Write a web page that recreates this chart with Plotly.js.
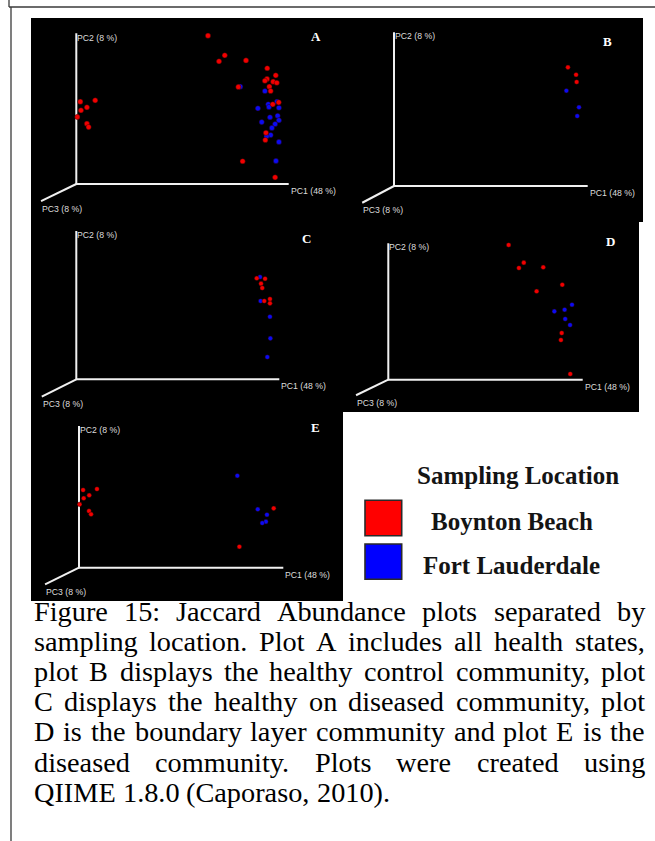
<!DOCTYPE html>
<html>
<head>
<meta charset="utf-8">
<script src="https://cdn.plot.ly/plotly-3.0.1.min.js"></script>
<style>
  html, body { margin: 0; padding: 0; background: #ffffff; }
  #fig { width: 655px; height: 841px; }
</style>
</head>
<body>
<div id="fig"></div>
<script>
// PCoA scores (fraction of the drawn PC1 / PC2 axis length), per sampling location
// Panel A - all health states
const a_bb_pc1 = [0.620, 0.699, 0.672, 0.799, 0.899, 0.939, 0.898, 0.888, 0.927, 0.944, 0.909, 0.763, 0.915, 0.953, 0.925, 0.893, 0.890, 0.783, 0.936, 0.019, 0.089, 0.050, 0.022, 0.005, 0.050, 0.058];
const a_bb_pc2 = [0.984, 0.854, 0.814, 0.820, 0.768, 0.721, 0.697, 0.685, 0.679, 0.672, 0.646, 0.644, 0.617, 0.542, 0.529, 0.340, 0.292, 0.151, 0.044, 0.546, 0.555, 0.509, 0.489, 0.445, 0.400, 0.378];
const a_fl_pc1 = [0.772, 0.888, 0.945, 0.904, 0.907, 0.954, 0.855, 0.948, 0.912, 0.954, 0.873, 0.936, 0.921, 0.915, 0.896, 0.954, 0.940];
const a_fl_pc2 = [0.646, 0.617, 0.546, 0.529, 0.511, 0.506, 0.502, 0.453, 0.443, 0.423, 0.411, 0.398, 0.372, 0.325, 0.317, 0.279, 0.153];
// Panel B - healthy control
const b_bb_pc1 = [0.898, 0.940, 0.943];
const b_bb_pc2 = [0.772, 0.724, 0.677];
const b_fl_pc1 = [0.890, 0.955, 0.946];
const b_fl_pc2 = [0.620, 0.512, 0.455];
// Panel C - healthy on diseased
const c_bb_pc1 = [0.889, 0.930, 0.910, 0.916, 0.926, 0.954, 0.954];
const c_bb_pc2 = [0.681, 0.678, 0.645, 0.616, 0.528, 0.541, 0.512];
const c_fl_pc1 = [0.905, 0.908, 0.954, 0.956, 0.941];
const c_fl_pc2 = [0.690, 0.528, 0.422, 0.276, 0.150];
// Panel D - boundary layer
const d_bb_pc1 = [0.619, 0.697, 0.672, 0.797, 0.895, 0.763, 0.892, 0.888, 0.936];
const d_bb_pc2 = [0.988, 0.858, 0.819, 0.824, 0.696, 0.648, 0.342, 0.291, 0.042];
const d_fl_pc1 = [0.945, 0.907, 0.854, 0.910, 0.935];
const d_fl_pc2 = [0.550, 0.513, 0.501, 0.445, 0.401];
// Panel E - diseased
const e_bb_pc1 = [0.020, 0.088, 0.050, 0.023, 0.003, 0.049, 0.059, 0.953, 0.785];
const e_bb_pc2 = [0.548, 0.555, 0.511, 0.490, 0.447, 0.400, 0.377, 0.419, 0.148];
const e_fl_pc1 = [0.775, 0.875, 0.920, 0.915, 0.897];
const e_fl_pc2 = [0.649, 0.412, 0.374, 0.325, 0.315];

const axisLabels = ['PC1 (48 %)', 'PC2 (8 %)', 'PC3 (8 %)'];
const locations = ['Boynton Beach', 'Fort Lauderdale'];
const legendTitle = 'Sampling Location';
const panelLetters = ['A', 'B', 'C', 'D', 'E'];
const captionLines = [
  'Figure 15: Jaccard Abundance plots separated by',
  'sampling location. Plot A includes all health states,',
  'plot B displays the healthy control community, plot',
  'C displays the healthy on diseased community, plot',
  'D is the boundary layer community and plot E is the',
  'diseased community. Plots were created using',
  'QIIME 1.8.0 (Caporaso, 2010).'
];

// ---- layout geometry (page pixels) ----
const W = 655, H = 841;
const X = p => p / W;
const Y = p => 1 - p / H;
const COLORS = { bb: '#f20000', fl: '#0b0bf2' };

const series = [
  { bb: [a_bb_pc1, a_bb_pc2], fl: [a_fl_pc1, a_fl_pc2] },
  { bb: [b_bb_pc1, b_bb_pc2], fl: [b_fl_pc1, b_fl_pc2] },
  { bb: [c_bb_pc1, c_bb_pc2], fl: [c_fl_pc1, c_fl_pc2] },
  { bb: [d_bb_pc1, d_bb_pc2], fl: [d_fl_pc1, d_fl_pc2] },
  { bb: [e_bb_pc1, e_bb_pc2], fl: [e_fl_pc1, e_fl_pc2] }
];

// box: [left, top, right, bottom]; origin: axes corner; len: drawn PC1/PC2 axis length
const panels = [
  { box: [31, 18, 343, 222],  origin: [76.3, 184],   len: [212.4, 150.7], pc3: [-0.166, -0.113], letter: [316, 36],    msize: 5.2, pc2dy: -4.5 },
  { box: [343, 18, 643, 222], origin: [394, 186],    len: [193.7, 153.7], pc3: [-0.164, -0.109], letter: [607, 41],    msize: 4.6, pc2dy: -4 },
  { box: [31, 222, 343, 412], origin: [76.3, 379.3], len: [203, 148.3],   pc3: [-0.170, -0.117], letter: [306.7, 238], msize: 4.6, pc2dy: -4.5 },
  { box: [343, 222, 639, 412], origin: [388.3, 379.7], len: [194.4, 136.4], pc3: [-0.166, -0.114], letter: [610, 241], msize: 4.6, pc2dy: -4 },
  { box: [31, 412, 343, 601], origin: [79, 567.7],   len: [204.3, 141.7], pc3: [-0.166, -0.117], letter: [315.5, 427], msize: 4.6, pc2dy: -4 }
];

const labelFont = { family: 'Liberation Sans, Arial, sans-serif', size: 8.7, color: '#dcdcdc' };
const serif = 'Liberation Serif, "Times New Roman", serif';

const traces = [];
const annotations = [];
const layout = {
  width: W, height: H,
  margin: { l: 0, r: 0, t: 0, b: 0 },
  paper_bgcolor: '#ffffff',
  plot_bgcolor: 'rgba(0,0,0,0)',
  showlegend: false,
  shapes: [],
  annotations: annotations
};

// black backdrop behind the five panels
[[31, 18, 643, 222], [31, 222, 639, 412], [31, 412, 343, 601]].forEach(r => {
  layout.shapes.push({ type: 'rect', xref: 'paper', yref: 'paper', layer: 'below',
    x0: X(r[0]), x1: X(r[2]), y0: Y(r[3]), y1: Y(r[1]),
    line: { width: 0 }, fillcolor: '#000000' });
});

// page frame lines
const frame = [[9, 0, 9, 7], [9, 7, 655, 7], [11, 7, 11, 841]];
frame.forEach(f => {
  layout.shapes.push({ type: 'line', xref: 'paper', yref: 'paper',
    x0: X(f[0]), y0: Y(f[1]), x1: X(f[2]), y1: Y(f[3]),
    line: { color: '#3a3a3a', width: 1.3 } });
});

panels.forEach((p, i) => {
  const n = i + 1;
  const xa = n === 1 ? 'x' : 'x' + n;
  const ya = n === 1 ? 'y' : 'y' + n;
  const [L, T, R, B] = p.box;
  const [ox, oy] = p.origin;
  const [lx, ly] = p.len;
  layout[n === 1 ? 'xaxis' : 'xaxis' + n] = {
    domain: [X(L), X(R)], range: [(L - ox) / lx, (R - ox) / lx],
    visible: false, fixedrange: true, anchor: ya
  };
  layout[n === 1 ? 'yaxis' : 'yaxis' + n] = {
    domain: [Y(B), Y(T)], range: [(oy - B) / ly, (oy - T) / ly],
    visible: false, fixedrange: true, anchor: xa
  };

  // PC1 / PC2 / PC3 axes of the ordination
  traces.push({
    type: 'scatter', mode: 'lines', xaxis: xa, yaxis: ya, hoverinfo: 'skip',
    x: [1, 0, 0, null, 0, p.pc3[0]], y: [0, 0, 1, null, 0, p.pc3[1]],
    line: { color: '#f0f0f0', width: 2 }
  });

  const s = series[i];
  ['fl', 'bb'].forEach(k => {
    traces.push({
      type: 'scatter', mode: 'markers', xaxis: xa, yaxis: ya, cliponaxis: false,
      name: k === 'bb' ? locations[0] : locations[1],
      x: s[k][0], y: s[k][1],
      marker: { color: COLORS[k], size: p.msize, line: { color: 'rgba(40,0,0,0.7)', width: 0.6 } }
    });
  });

  annotations.push(
    { xref: xa, yref: ya, x: 1, y: 0, text: axisLabels[0], showarrow: false,
      xanchor: 'left', yanchor: 'middle', yshift: -7, xshift: 1, font: labelFont, borderpad: 0 },
    { xref: xa, yref: ya, x: 0, y: 1, text: axisLabels[1], showarrow: false,
      xanchor: 'left', yanchor: 'middle', yshift: p.pc2dy, xshift: 0, font: labelFont, borderpad: 0 },
    { xref: xa, yref: ya, x: p.pc3[0], y: p.pc3[1], text: axisLabels[2], showarrow: false,
      xanchor: 'left', yanchor: 'middle', yshift: -7.5, font: labelFont, borderpad: 0 },
    { xref: 'paper', yref: 'paper', x: X(p.letter[0]), y: Y(p.letter[1]), text: panelLetters[i],
      showarrow: false, xanchor: 'center', yanchor: 'middle',
      font: { family: serif, size: 13, color: '#ffffff', weight: 'bold' } }
  );
});

// legend: sampling location swatches
const legendFont = { family: serif, size: 25, color: '#141414', weight: 'bold' };
annotations.push({ xref: 'paper', yref: 'paper', x: X(517.5), y: Y(475), text: legendTitle,
  showarrow: false, xanchor: 'center', yanchor: 'middle', font: legendFont });
const swatchRows = [[500.3, 535.7, COLORS.bb, 521.7], [544, 579.3, COLORS.fl, 565]];
swatchRows.forEach((r, k) => {
  layout.shapes.push({ type: 'rect', xref: 'paper', yref: 'paper',
    x0: X(365), x1: X(401.7), y0: Y(r[1]), y1: Y(r[0]),
    fillcolor: k === 0 ? '#ff0000' : '#0000ff', line: { color: '#2a2a2a', width: 1.6 } });
  annotations.push({ xref: 'paper', yref: 'paper', x: X(511.5), y: Y(r[3]), text: locations[k],
    showarrow: false, xanchor: 'center', yanchor: 'middle', font: legendFont });
});

// caption, set justified word by word
const capSize = 28.3;
const capLeft = 33, capRight = 644, capTop = 611.5, capStep = 30.1;
const ctx = document.createElement('canvas').getContext('2d');
ctx.font = capSize + 'px "Liberation Serif"';
const spaceW = ctx.measureText(' ').width;
captionLines.forEach((line, li) => {
  const words = line.split(' ');
  const widths = words.map(w => ctx.measureText(w).width);
  const total = widths.reduce((a, b) => a + b, 0);
  const last = li === captionLines.length - 1;
  const gap = last ? spaceW : (capRight - capLeft - total) / (words.length - 1);
  let x = capLeft;
  words.forEach((w, wi) => {
    annotations.push({ xref: 'paper', yref: 'paper', x: X(x), y: Y(capTop + li * capStep),
      text: w, showarrow: false, xanchor: 'left', yanchor: 'middle', borderpad: 0,
      font: { family: serif, size: capSize, color: '#000000' } });
    x += widths[wi] + gap;
  });
});

Plotly.newPlot('fig', traces, layout, { staticPlot: true, displayModeBar: false });
</script>
</body>
</html>
